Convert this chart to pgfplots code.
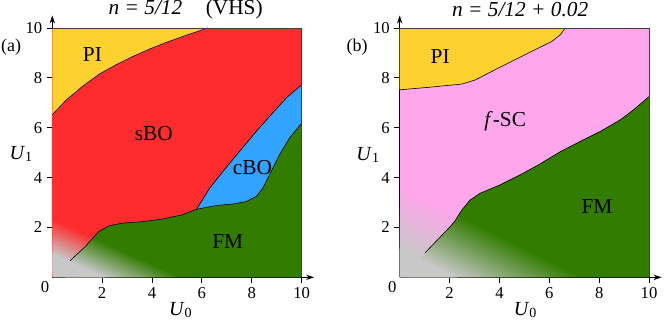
\documentclass[border=0pt]{standalone}
\usepackage{fontspec}
\setmainfont{Liberation Serif}
\usepackage{pgfplots}
\pgfplotsset{compat=1.18}
\usetikzlibrary{arrows.meta,fadings}

\definecolor{piY}{RGB}{253,210,46}
\definecolor{sboR}{RGB}{254,44,44}
\definecolor{cboB}{RGB}{48,164,255}
\definecolor{fmG}{RGB}{50,124,0}
\definecolor{scP}{RGB}{255,166,236}
\definecolor{lowG}{RGB}{200,200,200}

\tikzfading[name=grayfade, bottom color=transparent!0, top color=transparent!100]

\pgfplotsset{
  phase/.style={
    scale only axis, width=196.35pt, height=196.35pt,
    xmin=0, xmax=10.5, ymin=0, ymax=10.5,
    axis lines=left, clip=false, anchor=south west,
    axis line style={line width=0.6pt, -{Stealth[length=6pt,width=4pt]}},
    xtick={2,4,6,8,10}, ytick={2,4,6,8,10},
    tick align=center, major tick length=8pt,
    every tick/.style={black, line width=0.6pt},
    tick label style={font=\fontsize{12.5}{14}\selectfont},
    /pgf/number format/assume math mode=true,
  },
  bnd/.style={draw=black, line width=0.45pt},
  frame/.style={draw=black!75, line width=0.4pt},
}

\newcommand{\lab}{\fontsize{16}{18}\selectfont}
\newcommand{\axl}{\fontsize{15}{17}\selectfont}

\begin{document}
\begin{tikzpicture}
\path[use as bounding box] (0,0) rectangle (498pt,240pt);

% ---------- (a) n = 5/12 (VHS)
\begin{axis}[phase, at={(39.2pt,32pt)}]
\addplot[fill=sboR, draw=none] coordinates {(0,0) (10,0) (10,10) (0,10)} -- cycle;
% PI
\addplot[fill=piY, draw=none] coordinates {
  (0,6.52) (0.57,7.12) (1.24,7.68) (1.91,8.165) (2.57,8.53) (3.24,8.86)
  (3.91,9.16) (4.57,9.42) (5.24,9.66) (5.91,9.89) (6.24,10) (0,10)} -- cycle;
% FM
\addplot[fill=fmG, draw=none] coordinates {
  (0,0) (0.72,0.67) (1.32,1.23) (1.86,1.83) (2.26,2.06) (2.79,2.17) (3.59,2.23)
  (4.39,2.33) (5.19,2.5) (5.79,2.73) (6.58,2.88) (7.24,2.94) (7.78,3.04)
  (8.18,3.24) (8.44,3.57) (8.71,4.11) (9.11,4.91) (9.51,5.58) (10,6.18) (10,0)} -- cycle;
% cBO
\addplot[fill=cboB, draw=none] coordinates {
  (5.79,2.73) (6.31,3.57) (6.84,4.24) (7.51,5.05) (8.18,5.85) (8.84,6.59)
  (9.38,7.19) (10,7.72) (10,6.18) (9.51,5.58) (9.11,4.91) (8.71,4.11)
  (8.44,3.57) (8.18,3.24) (7.78,3.04) (7.24,2.94) (6.58,2.88)} -- cycle;
% weak-coupling corner
\addplot[fill=lowG, draw=none] coordinates {(0,0) (2.11,0) (0,0.95)} -- cycle;
\addplot[fill=lowG, draw=none, path fading=grayfade,
  fading transform={rotate=-24.23, yshift=-18.86bp, yscale=0.241}]
  coordinates {(0,0) (5.3,0) (5.3,5.3) (0,5.3)} -- cycle;
% boundaries
\addplot[bnd] coordinates {
  (0,6.52) (0.57,7.12) (1.24,7.68) (1.91,8.165) (2.57,8.53) (3.24,8.86)
  (3.91,9.16) (4.57,9.42) (5.24,9.66) (5.91,9.89) (6.24,10)};
\addplot[bnd] coordinates {
  (0.72,0.67) (1.32,1.23) (1.86,1.83) (2.26,2.06) (2.79,2.17) (3.59,2.23)
  (4.39,2.33) (5.19,2.5) (5.79,2.73) (6.58,2.88) (7.24,2.94) (7.78,3.04)
  (8.18,3.24) (8.44,3.57) (8.71,4.11) (9.11,4.91) (9.51,5.58) (10,6.18)};
\addplot[bnd] coordinates {
  (5.79,2.73) (6.31,3.57) (6.84,4.24) (7.51,5.05) (8.18,5.85) (8.84,6.59)
  (9.38,7.19) (10,7.72)};
\addplot[frame] coordinates {(0,10) (10,10) (10,0)};

\node[font=\lab] at (axis cs:1.61,8.93) {PI};
\node[font=\lab] at (axis cs:4.07,5.78) {sBO};
\node[font=\lab] at (axis cs:8.03,4.40) {cBO};
\node[font=\lab] at (axis cs:7.04,1.43) {FM};
\node[font=\lab] at (axis cs:5.35,10.73) {\textit{n = 5/12}\hspace{1.1em}(VHS)};
\node[font=\fontsize{13.5}{15}\selectfont] at (axis cs:-1.65,9.25) {(a)};
\node[font=\axl] at (axis cs:-1.25,4.95) {\textit{U}\textsubscript{1}};
\node[font=\axl] at (axis cs:5.15,-1.31) {\textit{U}\textsubscript{0}};
\node[font=\fontsize{12.5}{14}\selectfont, xshift=-5.5pt, yshift=-7.6pt] at (axis cs:0,0) {0};
\end{axis}

% ---------- (b) n = 5/12 + 0.02
\begin{axis}[phase, at={(299.8pt,32pt)}]
\addplot[fill=scP, draw=none] coordinates {(0,0) (10,0) (10,10) (0,10)} -- cycle;
% PI
\addplot[fill=piY, draw=none] coordinates {
  (0,7.52) (1.15,7.62) (2.49,7.75) (3.04,7.92) (3.83,8.33) (4.63,8.73)
  (5.43,9.13) (6.1,9.46) (6.44,9.73) (6.64,10) (0,10)} -- cycle;
% FM
\addplot[fill=fmG, draw=none] coordinates {
  (0.3,0) (1.02,0.99) (2.02,2.03) (2.22,2.27) (2.49,2.70) (2.82,3.10) (3.22,3.37)
  (4.03,3.71) (4.83,4.11) (5.63,4.55) (6.44,5.04) (7.24,5.45) (8.04,5.85)
  (8.85,6.32) (9.38,6.72) (10,7.25) (10,0)} -- cycle;
% weak-coupling corner
\addplot[fill=lowG, draw=none] coordinates {(0,0) (2.3,0) (0,1.15)} -- cycle;
\addplot[fill=lowG, draw=none, path fading=grayfade,
  fading transform={rotate=-26.57, yshift=-19.08bp, yscale=0.304}]
  coordinates {(0,0) (7.5,0) (7.5,7.5) (0,7.5)} -- cycle;
% boundaries
\addplot[bnd] coordinates {
  (0,7.52) (1.15,7.62) (2.49,7.75) (3.04,7.92) (3.83,8.33) (4.63,8.73)
  (5.43,9.13) (6.1,9.46) (6.44,9.73) (6.64,10)};
\addplot[bnd] coordinates {
  (1.02,0.99) (2.02,2.03) (2.22,2.27) (2.49,2.70) (2.82,3.10) (3.22,3.37)
  (4.03,3.71) (4.83,4.11) (5.63,4.55) (6.44,5.04) (7.24,5.45) (8.04,5.85)
  (8.85,6.32) (9.38,6.72) (10,7.25)};
\addplot[frame] coordinates {(0,10) (10,10) (10,0)};

\node[font=\lab] at (axis cs:1.62,8.86) {PI};
\node[font=\lab] at (axis cs:4.23,6.25) {\textit{f}-SC};
\node[font=\lab] at (axis cs:7.91,2.84) {FM};
\node[font=\lab] at (axis cs:4.83,10.73) {\textit{n = 5/12 + 0.02}};
\node[font=\fontsize{13.5}{15}\selectfont] at (axis cs:-1.71,9.23) {(b)};
\node[font=\axl] at (axis cs:-1.27,4.91) {\textit{U}\textsubscript{1}};
\node[font=\axl] at (axis cs:5.04,-1.31) {\textit{U}\textsubscript{0}};
\node[font=\fontsize{12.5}{14}\selectfont, xshift=-5.5pt, yshift=-7.6pt] at (axis cs:0,0) {0};
\end{axis}
\end{tikzpicture}
\end{document}
